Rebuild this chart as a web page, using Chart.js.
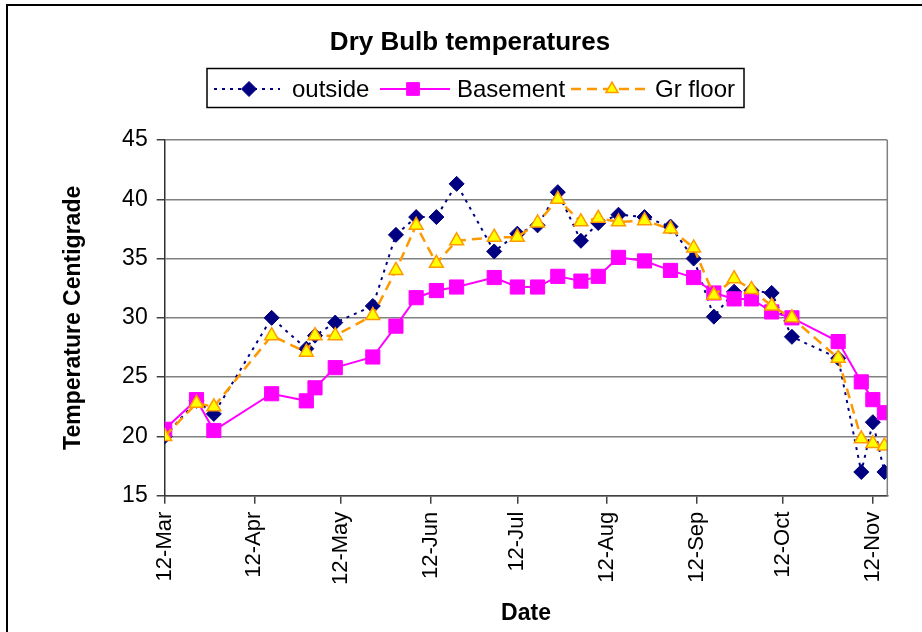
<!DOCTYPE html>
<html>
<head>
<meta charset="utf-8">
<script src="https://cdn.jsdelivr.net/npm/chart.js"></script>
<style>
  body { margin: 0; background: #fff; }
  canvas { display: block; }
</style>
</head>
<body>
<canvas id="grafico" width="922" height="632"></canvas>
<script>
// dados (datas de medição e temperaturas em °C)
const dates = [
    '2005-03-12', '2005-03-23', '2005-03-29', '2005-04-18', '2005-04-30', '2005-05-03',
    '2005-05-10', '2005-05-23', '2005-05-31', '2005-06-07', '2005-06-14', '2005-06-21',
    '2005-07-04', '2005-07-12', '2005-07-19', '2005-07-26', '2005-08-03', '2005-08-09',
    '2005-08-16', '2005-08-25', '2005-09-03', '2005-09-11', '2005-09-18', '2005-09-25',
    '2005-10-01', '2005-10-08', '2005-10-15', '2005-10-31', '2005-11-08', '2005-11-12',
    '2005-11-16'
];
const outside  = [20.0, 23.0, 21.9, 30.0, 27.4, 28.5, 29.6, 31.0, 37.0, 38.5, 38.5, 41.3,
                  35.6, 37.1, 37.8, 40.6, 36.5, 38.0, 38.7, 38.5, 37.7, 35.0, 30.1, 32.2,
                  32.3, 32.1, 28.4, 26.6, 17.0, 21.2, 17.0];
const basement = [20.6, 23.1, 20.5, 23.6, 23.0, 24.1, 25.8, 26.7, 29.3, 31.7, 32.3, 32.6,
                  33.4, 32.6, 32.6, 33.5, 33.1, 33.5, 35.1, 34.8, 34.0, 33.4, 32.1, 31.6,
                  31.6, 30.5, 30.0, 28.0, 24.6, 23.1, 22.0];
const grFloor  = [20.0, 22.8, 22.5, 28.5, 27.1, 28.5, 28.5, 30.2, 34.0, 37.8, 34.6, 36.5,
                  36.8, 36.8, 38.0, 40.0, 38.1, 38.4, 38.1, 38.2, 37.5, 35.9, 31.9, 33.3,
                  32.4, 31.0, 30.0, 26.6, 19.8, 19.4, 19.2];

const tickDates  = ['2005-03-12', '2005-04-12', '2005-05-12', '2005-06-12', '2005-07-12',
                    '2005-08-12', '2005-09-12', '2005-10-12', '2005-11-12'];
const tickLabels = ['12-Mar', '12-Apr', '12-May', '12-Jun', '12-Jul',
                    '12-Aug', '12-Sep', '12-Oct', '12-Nov'];
const yTicks = [15, 20, 25, 30, 35, 40, 45];
const endDate = '2005-11-17';

const FONTE = "'Liberation Sans', Arial, sans-serif";

// dias desde a primeira data
function dia(s) {
    const [a, m, d] = s.split('-').map(Number);
    const [a0, m0, d0] = dates[0].split('-').map(Number);
    return Math.round((Date.UTC(a, m - 1, d) - Date.UTC(a0, m0 - 1, d0)) / 86400000);
}

const pontos = serie => serie.map((v, i) => ({ x: dia(dates[i]), y: v }));
const tickDias = tickDates.map(dia);

const series = [
    {
        label: 'outside', data: pontos(outside), order: 2,
        borderColor: '#000080', borderWidth: 2, borderDash: [3, 5],
        pointStyle: 'rectRot', pointRadius: 7.5,
        pointBackgroundColor: '#000080', pointBorderColor: '#000080', pointBorderWidth: 1,
        legX: [214, 280], legM: 249, legT: 292, legR: 7.5
    },
    {
        label: 'Basement', data: pontos(basement), order: 1,
        borderColor: '#ff00ff', borderWidth: 2, borderDash: [],
        pointStyle: 'rect', pointRadius: 10,
        pointBackgroundColor: '#ff00ff', pointBorderColor: '#ff00ff', pointBorderWidth: 1,
        legX: [380, 450], legM: 413, legT: 457, legR: 9
    },
    {
        label: 'Gr floor', data: pontos(grFloor), order: 0,
        borderColor: '#ff9900', borderWidth: 2.5, borderDash: [10, 6],
        pointStyle: 'triangle', pointRadius: 8,
        pointBackgroundColor: '#ffff00', pointBorderColor: '#ff9900', pointBorderWidth: 1.5,
        legX: [571, 646], legM: 612, legT: 655, legR: 7
    }
];

function marcador(ctx, s, x, y, r) {
    ctx.save();
    ctx.fillStyle = s.pointBackgroundColor;
    ctx.strokeStyle = s.pointBorderColor;
    ctx.lineWidth = s.pointBorderWidth;
    ctx.setLineDash([]);
    if (Chart.helpers && Chart.helpers.drawPoint) {
        Chart.helpers.drawPoint(ctx, { pointStyle: s.pointStyle, radius: r, rotation: 0, borderWidth: s.pointBorderWidth }, x, y);
    }
    ctx.restore();
}

const moldura = {
    id: 'moldura',
    beforeDraw(chart) {
        const ctx = chart.ctx;
        ctx.save();
        ctx.fillStyle = '#fff';
        ctx.fillRect(0, 0, chart.width, chart.height);
        ctx.strokeStyle = '#000';
        ctx.lineWidth = 2;
        ctx.beginPath();
        ctx.moveTo(7, chart.height);
        ctx.lineTo(7, 5);
        ctx.lineTo(chart.width, 5);
        ctx.stroke();
        ctx.restore();
    },
    afterDraw(chart) {
        const ctx = chart.ctx;
        const a = chart.chartArea;
        ctx.save();
        // borda direita da área do gráfico
        ctx.strokeStyle = '#808080';
        ctx.lineWidth = 1.5;
        ctx.beginPath();
        ctx.moveTo(a.right, a.top);
        ctx.lineTo(a.right, a.bottom);
        ctx.stroke();

        // título
        ctx.fillStyle = '#000';
        ctx.font = 'bold 26px ' + FONTE;
        ctx.textAlign = 'center';
        ctx.textBaseline = 'alphabetic';
        ctx.fillText('Dry Bulb temperatures', 470, 49.5);

        // legenda
        ctx.strokeStyle = '#000';
        ctx.lineWidth = 1.5;
        ctx.strokeRect(207, 68.5, 537, 39);
        const ly = 89;
        ctx.font = '24px ' + FONTE;
        ctx.textAlign = 'left';
        ctx.textBaseline = 'middle';
        series.forEach(s => {
            ctx.strokeStyle = s.borderColor;
            ctx.lineWidth = s.borderWidth;
            ctx.setLineDash(s.borderDash);
            ctx.beginPath();
            ctx.moveTo(s.legX[0], ly);
            ctx.lineTo(s.legX[1], ly);
            ctx.stroke();
            marcador(ctx, s, s.legM, ly, s.legR);
            ctx.fillStyle = '#000';
            ctx.fillText(s.label, s.legT, ly + 1);
        });
        ctx.restore();
    }
};

new Chart(document.getElementById('grafico'), {
    type: 'line',
    data: {
        datasets: series.map(s => ({
            label: s.label,
            data: s.data,
            order: s.order,
            borderColor: s.borderColor,
            borderWidth: s.borderWidth,
            borderDash: s.borderDash,
            pointStyle: s.pointStyle,
            pointRadius: s.pointRadius,
            pointBackgroundColor: s.pointBackgroundColor,
            pointBorderColor: s.pointBorderColor,
            pointBorderWidth: s.pointBorderWidth,
            tension: 0,
            fill: false
        }))
    },
    options: {
        responsive: false,
        animation: false,
        layout: { padding: { left: 60, right: 34.7, top: 140, bottom: 5 } },
        plugins: {
            legend: { display: false },
            title: { display: false },
            tooltip: { enabled: false }
        },
        scales: {
            x: {
                type: 'linear',
                min: 0,
                max: dia(endDate),
                afterBuildTicks: scale => { scale.ticks = tickDias.map(v => ({ value: v })); },
                afterFit: scale => { scale.height = 632 - 5 - 495.7; },
                ticks: {
                    autoSkip: false,
                    minRotation: 90,
                    maxRotation: 90,
                    padding: 8,
                    color: '#000',
                    font: { size: 22, family: FONTE },
                    callback: v => tickLabels[tickDias.indexOf(v)] ?? ''
                },
                grid: { drawOnChartArea: false, tickLength: 8, tickColor: '#404040', lineWidth: 1.5 },
                border: { color: '#404040', width: 1.5 },
                title: {
                    display: true,
                    text: 'Date',
                    color: '#000',
                    padding: 0,
                    font: { size: 23, weight: 'bold', family: FONTE }
                }
            },
            y: {
                min: 15,
                max: 45,
                afterBuildTicks: scale => { scale.ticks = yTicks.map(v => ({ value: v })); },
                afterFit: scale => { scale.width = 164.7 - 60; },
                ticks: {
                    padding: 9,
                    color: '#000',
                    font: { size: 23, family: FONTE }
                },
                grid: { color: '#808080', lineWidth: 1.5, tickLength: 8, tickColor: '#404040' },
                border: { color: '#303030', width: 1.5 },
                title: {
                    display: true,
                    text: 'Temperature Centigrade',
                    color: '#000',
                    padding: 0,
                    font: { size: 23, weight: 'bold', family: FONTE }
                }
            }
        }
    },
    plugins: [moldura]
});
</script>
</body>
</html>
